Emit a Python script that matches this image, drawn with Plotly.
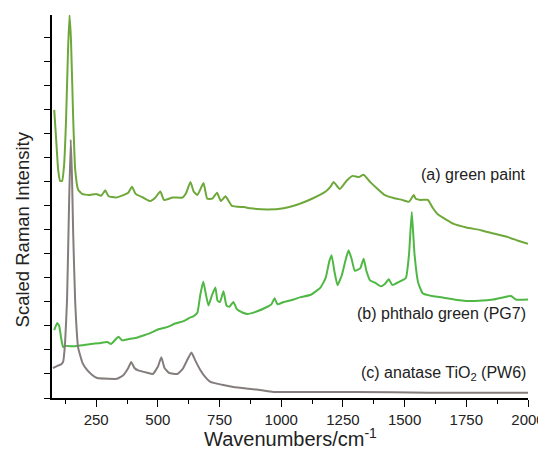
import plotly.graph_objects as go

# (a) green paint
a_wn = [80, 88, 96, 104, 112, 120, 128, 136, 142, 148, 157, 165, 177, 193, 220, 250, 270, 287, 300, 330,
        360, 380, 395, 410, 440, 469, 490, 510, 525, 560, 600, 615, 632, 645, 660, 685, 700, 720, 740, 755,
        774, 800, 850, 875, 943, 1010, 1078, 1131, 1180, 1200, 1212, 1237, 1265, 1289, 1314, 1334, 1360, 1391,
        1420, 1456, 1490, 1517, 1530, 1537, 1545, 1565, 1594, 1615, 1634, 1665, 1699, 1750, 1809, 1860, 1919,
        1960, 2000]
a_y = [12.0, 10.75, 9.5, 9.04, 9.04, 9.7, 11.6, 14.5, 15.95, 14.9, 11.6, 9.5, 8.67, 8.5, 8.45, 8.5, 8.42, 8.65, 8.4, 8.35,
       8.45, 8.55, 8.8, 8.5, 8.35, 8.2, 8.35, 8.6, 8.25, 8.35, 8.35, 8.55, 9.0, 8.6, 8.45, 8.95, 8.3, 8.3, 8.55, 8.2,
       8.4, 8.0, 7.95, 7.9, 7.85, 7.9, 8.1, 8.33, 8.6, 8.8, 9.0, 8.7, 9.05, 9.25, 9.2, 9.3, 9.0, 8.7,
       8.45, 8.33, 8.25, 8.17, 8.35, 8.45, 8.3, 8.25, 8.25, 7.9, 7.65, 7.45, 7.25, 7.1, 6.99, 6.85, 6.7,
       6.55, 6.42]

# (b) phthalo green (PG7)
b_wn = [80, 92, 100, 108, 116, 128, 160, 197, 230, 260, 295, 310, 340, 355, 380, 410, 440, 469, 500, 537,
        570, 604, 630, 644, 660, 672, 684, 695, 705, 720, 733, 742, 752, 766, 778, 790, 806, 820, 845, 863,
        900, 944, 960, 973, 985, 1010, 1050, 1078, 1120, 1159, 1180, 1195, 1204, 1215, 1228, 1245, 1262, 1273,
        1285, 1298, 1320, 1334, 1345, 1360, 1380, 1403, 1420, 1436, 1450, 1480, 1505, 1518, 1529, 1540, 1555,
        1574, 1610, 1647, 1700, 1740, 1800, 1860, 1931, 1950, 2000]
b_y = [2.83, 3.12, 3.0, 2.5, 2.12, 2.17, 2.15, 2.2, 2.25, 2.28, 2.33, 2.25, 2.55, 2.4, 2.45, 2.5, 2.6, 2.7, 2.85, 2.95,
       3.1, 3.2, 3.35, 3.4, 3.55, 4.3, 4.85, 4.3, 3.85, 4.3, 4.6, 4.05, 4.0, 4.45, 3.85, 3.8, 4.0, 3.7, 3.55, 3.5,
       3.6, 3.8, 3.9, 4.15, 3.9, 4.0, 4.1, 4.2, 4.3, 4.6, 5.0, 5.7, 5.95, 5.3, 4.7, 5.1, 5.8, 6.15,
       5.8, 5.3, 5.4, 5.8, 5.3, 4.9, 4.8, 4.65, 4.75, 4.95, 4.7, 4.85, 5.0, 6.0, 7.75, 6.0, 4.8,
       4.35, 4.25, 4.2, 4.1, 4.05, 4.05, 4.1, 4.25, 4.1, 4.1]

# (c) anatase TiO2 (PW6)
c_wn = [75, 95, 108, 116, 124, 132, 140, 147, 152, 157, 165, 177, 195, 213, 235, 254, 300, 335, 360, 380,
        392, 405, 420, 457, 480, 500, 514, 527, 545, 579, 600, 620, 636, 650, 672, 690, 713, 760, 806, 900,
        969, 1078, 1300, 1600, 2000]
c_y = [1.25, 1.35, 1.4, 1.5, 2.3, 4.1, 8.0, 10.75, 9.2, 6.8, 4.0, 2.1, 1.45, 1.17, 0.95, 0.83, 0.8, 0.8, 0.95, 1.25,
       1.5, 1.25, 1.15, 1.05, 1.0, 1.3, 1.7, 1.25, 1.05, 1.0, 1.2, 1.6, 1.9, 1.6, 1.17, 0.9, 0.67, 0.55, 0.46, 0.35,
       0.25, 0.25, 0.25, 0.22, 0.22]

labels = ["(a) green paint", "(b) phthalo green (PG7)", "(c) anatase TiO<sub>2</sub> (PW6)"]
label_y = [9.3, 3.54, 1.04]
x_ticks = [250, 500, 750, 1000, 1250, 1500, 1750, 2000]

FONT = "Liberation Sans, Arial, sans-serif"

fig = go.Figure()
fig.add_trace(go.Scatter(x=a_wn, y=a_y, mode="lines", line=dict(color="#6fa83a", width=2, shape="spline", smoothing=0.4)))
fig.add_trace(go.Scatter(x=b_wn, y=b_y, mode="lines", line=dict(color="#4fb844", width=2, shape="spline", smoothing=0.4)))
fig.add_trace(go.Scatter(x=c_wn, y=c_y, mode="lines", line=dict(color="#857c7c", width=2, shape="spline", smoothing=0.4)))

for t, y in zip(labels, label_y):
    fig.add_annotation(x=2000, y=y, text=t, showarrow=False, xanchor="right", yanchor="middle",
                       font=dict(family=FONT, size=16, color="#222"))

fig.add_annotation(xref="paper", yref="paper", x=-0.061, y=0.44, text="Scaled Raman Intensity",
                   textangle=-90, showarrow=False, xanchor="center", yanchor="middle",
                   font=dict(family=FONT, size=18.5, color="#222"))
fig.add_annotation(xref="paper", yref="paper", x=0.5, y=-0.102, text="Wavenumbers/cm<sup>-1</sup>",
                   showarrow=False, xanchor="center", yanchor="middle",
                   font=dict(family=FONT, size=20, color="#222"))

fig.update_layout(
    width=538, height=446,
    margin=dict(l=44, r=18, t=7, b=56, autoexpand=False),
    paper_bgcolor="white", plot_bgcolor="white",
    showlegend=False,
    font=dict(family=FONT, color="#222"),
    xaxis=dict(range=[71, 2000], tickvals=x_ticks, ticks="outside", ticklen=7, tickwidth=1.3,
               tickcolor="black", showline=True, linecolor="black", linewidth=1.5, automargin=False,
               showgrid=False, zeroline=False, tickfont=dict(size=15, family=FONT, color="#222"),
               minor=dict(tickvals=[125, 375, 625, 875, 1125, 1375, 1625, 1875], ticks="outside",
                          ticklen=4, tickcolor="black", tickwidth=1.3)),
    yaxis=dict(range=[0, 15.95], dtick=1, tick0=0, ticks="outside", ticklen=6, tickwidth=1.3,
               tickcolor="black", showline=True, linecolor="black", linewidth=1.5, automargin=False,
               showticklabels=False, showgrid=False, zeroline=False),
)

fig.write_html("out.html")
